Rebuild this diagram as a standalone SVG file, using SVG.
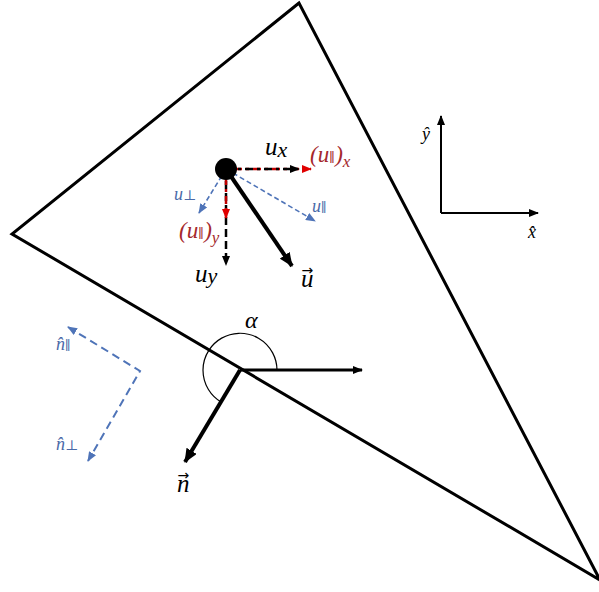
<svg xmlns="http://www.w3.org/2000/svg" width="599" height="592" viewBox="0 0 599 592">
<defs>
<style>
.m{font-family:"Liberation Serif","DejaVu Serif",serif;font-style:italic;}
.ar{font-family:"DejaVu Sans",sans-serif;font-style:normal;}
.blk{fill:#000;}
.red{fill:#a5282c;}
.blu{fill:#4a6aa8;}
.thin{stroke:#000;stroke-width:2;fill:none;}
.thick{stroke:#000;stroke-width:4;fill:none;}
.bd{stroke:#4f74b8;stroke-width:1.6;stroke-dasharray:5 3;fill:none;}
</style>
<marker id="ab" markerWidth="10" markerHeight="8" refX="9" refY="4" orient="auto" markerUnits="userSpaceOnUse"><path d="M0,0 L10,4 L0,8 z" fill="#000"/></marker>
<marker id="abT" markerWidth="14" markerHeight="12" refX="13" refY="6" orient="auto" markerUnits="userSpaceOnUse"><path d="M0,0 L14,6 L0,12 z" fill="#000"/></marker>
<marker id="ar" markerWidth="10" markerHeight="8" refX="9" refY="4" orient="auto" markerUnits="userSpaceOnUse"><path d="M0,0 L10,4 L0,8 z" fill="#e00000"/></marker>
<marker id="abl" markerWidth="10" markerHeight="8" refX="9" refY="4" orient="auto" markerUnits="userSpaceOnUse"><path d="M0,0 L10,4 L0,8 z" fill="#4f74b8"/></marker>
</defs>
<rect width="599" height="592" fill="#fff"/>
<g id="triangle"><path d="M299,3 L12,234 L600,580 Z" class="thick" style="stroke-width:3;stroke-linejoin:miter"/></g>
<g id="connectors">
<line x1="226" y1="169" x2="311" y2="169" stroke="#c00000" stroke-width="2.5" stroke-dasharray="8 4 3 4" stroke-dashoffset="-8" marker-end="url(#ar)"/>
<line x1="226" y1="169" x2="299" y2="169" stroke="#000" stroke-width="2.5" stroke-dasharray="8 4 3 4" marker-end="url(#ab)"/>
<line x1="226" y1="169" x2="226" y2="265" stroke="#000" stroke-width="2.5" stroke-dasharray="8 4" marker-end="url(#ab)"/>
<line x1="226" y1="169" x2="226" y2="218" stroke="#c00000" stroke-width="2.5" stroke-dasharray="8 4 3 4" stroke-dashoffset="-8" marker-end="url(#ar)"/>
<line x1="226" y1="169" x2="315" y2="221" class="bd" marker-end="url(#abl)"/>
<line x1="226" y1="169" x2="199" y2="213" class="bd" marker-end="url(#abl)"/>
<line x1="226" y1="169" x2="292" y2="266" class="thick" marker-end="url(#abT)"/>
<line x1="240" y1="370" x2="362" y2="370" class="thick" style="stroke-width:3" marker-end="url(#ab)"/>
<line x1="240" y1="370" x2="185" y2="462" class="thick" marker-end="url(#abT)"/>
<path d="M277,370 A37,37 0 1 0 221,402" fill="none" stroke="#000" stroke-width="1.2"/>
<polyline points="68,327 140,371 88,461" class="bd" style="stroke-width:2;stroke-dasharray:8 5"/>
<line x1="100" y1="346" x2="68" y2="327" stroke="none" marker-end="url(#abl)"/>
<line x1="110" y1="423" x2="88" y2="461" stroke="none" marker-end="url(#abl)"/>
<line x1="441" y1="213" x2="441" y2="116" class="thin" marker-end="url(#ab)"/>
<line x1="441" y1="213" x2="538" y2="213" class="thin" marker-end="url(#ab)"/>
</g>
<g id="dot"><circle cx="226" cy="169" r="11" fill="#000"/></g>
<g id="labels">
<text class="m blk" x="265" y="155" font-size="25">u<tspan font-size="22" dy="2">x</tspan></text>
<text class="m red" x="310" y="162" font-size="23">(u<tspan font-size="13" font-style="normal">∥</tspan>)<tspan font-size="17" dy="5">x</tspan></text>
<text class="m blu" x="174" y="200" font-size="18">u<tspan font-size="14" font-style="normal">⊥</tspan></text>
<text class="m blu" x="312" y="212" font-size="18">u<tspan font-size="13" font-style="normal">∥</tspan></text>
<text class="m red" x="179" y="238" font-size="23">(u<tspan font-size="13" font-style="normal">∥</tspan>)<tspan font-size="17" dy="5">y</tspan></text>
<text class="m blk" x="195" y="282" font-size="25">u<tspan font-size="22" dy="1">y</tspan></text>
<text class="m blk" x="301" y="287" font-size="25">u<tspan class="ar" font-size="14" dx="-12" dy="-12">→</tspan></text>
<text class="m blk" x="245" y="328" font-size="24">α</text>
<text class="m blk" x="177" y="492" font-size="25">n<tspan class="ar" font-size="14" dx="-12" dy="-12">→</tspan></text>
<text class="m blu" x="56" y="350" font-size="18">n̂<tspan font-size="13" font-style="normal">∥</tspan></text>
<text class="m blu" x="56" y="450" font-size="18">n̂<tspan font-size="14" font-style="normal">⊥</tspan></text>
<text class="m blk" x="422" y="140" font-size="18">ŷ</text>
<text class="m blk" x="528" y="238" font-size="18">x̂</text>
</g>
</svg>
